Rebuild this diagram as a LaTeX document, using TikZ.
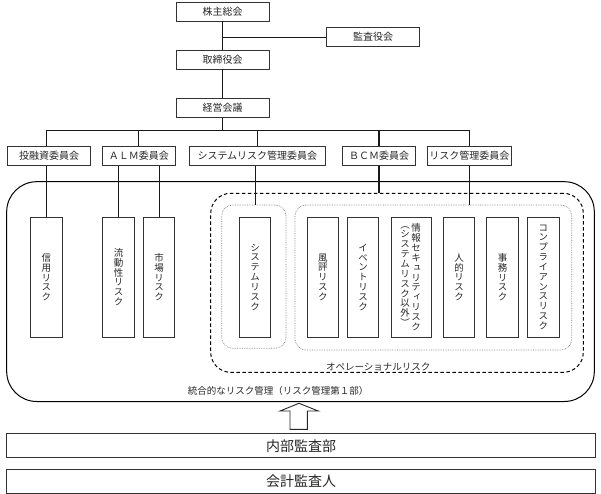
\documentclass[tikz,border=0pt]{standalone}
\usepackage{fontspec}
\setmainfont{Noto Sans CJK JP}
\newfontfamily\tatefont[RawFeature=+vert]{Noto Sans CJK JP}
\usepackage{tikz}

\begin{document}
\begin{tikzpicture}[x=1pt,y=-1pt,
		orgbox/.style={draw=black!80, line width=0.9pt, inner sep=0pt, text=black!85, minimum width=93pt, minimum height=19pt, font=\fontsize{10}{12}\selectfont},
		tate/.style={align=center, inner sep=0pt, text=black!85, font=\tatefont\fontsize{9.5}{9.85}\selectfont},
		riskbox/.style={tate, draw=black!80, line width=0.9pt, minimum width=31.5pt, minimum height=120pt},
		group/.style={draw=black!50, densely dotted, line width=0.7pt, inner sep=0pt, rounded corners=11pt},
		auditbox/.style={orgbox, minimum width=589pt, minimum height=24pt, font=\fontsize{14}{16}\selectfont},
		link/.style={line width=1.1pt, black!90}]
		%\draw[thin, gray!25] (0,0) grid[step=50] (601,494);
		\useasboundingbox (0,0) rectangle (601,494);
		% containers
		\node[draw, line width=1pt, inner sep=0pt, rounded corners=30pt, minimum width=587.6pt, minimum height=219.8pt] (togo) at (300.5,291.6) {};
		\node[draw, dash pattern=on 3.5pt off 2.5pt, line width=1pt, inner sep=0pt, rounded corners=20pt, minimum width=372.6pt, minimum height=179pt] (ops) at (397,282.8) {};
		\node[group, minimum width=64.3pt, minimum height=143.3pt] (sysgrp) at (253.85,276.65) {};
		\node[group, minimum width=276.7pt, minimum height=145pt] (opsin) at (433.35,277.5) {};
		\node[text=black!85, font=\fontsize{9.5}{11}\selectfont] (opslabel) at (378.3,366.7) {オペレーショナルリスク};
		\node[text=black!85, font=\fontsize{9.5}{11}\selectfont] (togolabel) at (278,391) {統合的なリスク管理（リスク管理第１部）};
		% top
		\node[orgbox] (kabu) at (222.5,11.5) {株主総会};
		\node[orgbox] (kansa) at (373,37.2) {監査役会};
		\node[orgbox] (torishimari) at (222.5,59.5) {取締役会};
		\node[orgbox] (keiei) at (222.5,108) {経営会議};
		% committees
		\node[orgbox, minimum width=83.4pt] (toyushi) at (49,155.7) {投融資委員会};
		\node[orgbox, minimum width=72.3pt] (alm) at (138.85,155.7) {ＡＬＭ委員会};
		\node[orgbox, minimum width=136.7pt] (syscom) at (257.35,155.7) {システムリスク管理委員会};
		\node[orgbox, minimum width=72.6pt] (bcm) at (379,155.7) {ＢＣＭ委員会};
		\node[orgbox, minimum width=84.7pt] (riskcom) at (469.35,155.7) {リスク管理委員会};
		% risks
		\node[riskbox] (shinyo) at (46.35,277.2) {信\\用\\リ\\ス\\ク};
		\node[riskbox] (ryudo) at (118.5,277.2) {流\\動\\性\\リ\\ス\\ク};
		\node[riskbox] (shijo) at (159.15,277.2) {市\\場\\リ\\ス\\ク};
		\node[riskbox] (sysrisk) at (255.15,277.2) {シ\\ス\\テ\\ム\\リ\\ス\\ク};
		\node[riskbox] (fuhyo) at (322.8,277.2) {風\\評\\リ\\ス\\ク};
		\node[riskbox] (event) at (363.15,277.2) {イ\\ベ\\ン\\ト\\リ\\ス\\ク};
		\node[riskbox, minimum width=40.5pt] (joho) at (411.3,277.2) {};
		\node[tate] (johoR) at (416,277.2) {情\\報\\セ\\キ\\ュ\\リ\\テ\\ィ\\リ\\ス\\ク};
		\node[tate] (johoL) at (405,276.5) {︵\\シ\\ス\\テ\\ム\\リ\\ス\\ク\\以\\外\\︶};
		\node[riskbox] (jinteki) at (459.15,277.2) {人\\的\\リ\\ス\\ク};
		\node[riskbox] (jimu) at (502.5,277.2) {事\\務\\リ\\ス\\ク};
		\node[riskbox] (comp) at (543.35,277.2) {コ\\ン\\プ\\ラ\\イ\\ア\\ン\\ス\\リ\\ス\\ク};
		% audit
		\node[auditbox] (naibu) at (301.2,445.85) {内部監査部};
		\node[auditbox] (kaikei) at (301.2,481.15) {会計監査人};
		\draw[line width=0.9pt, draw=black!85] (290,429.3) -- (290,411) -- (280,411) -- (299,403.3) -- (318.3,411) -- (307.3,411) -- (307.3,429.3) -- cycle;
		% links
		\coordinate (bus) at (222.5,130.7);
		\draw[link] (kabu) -- (torishimari);
		\draw[link] (kansa) -- (kansa -| kabu);
		\draw[link] (torishimari) -- (keiei);
		\draw[link] (keiei) -- (bus);
		\draw[link] (toyushi.north -| shinyo) |- (bus) -| (riskcom);
		\draw[link] (alm) -- (alm |- bus);
		\draw[link] (syscom) -- (syscom |- bus);
		\draw[link] (bcm) -- (bcm |- bus);
		\draw[link] (shinyo) -- (shinyo |- toyushi.south);
		\draw[link] (ryudo) -- (ryudo |- alm.south);
		\draw[link] (shijo) -- (shijo |- alm.south);
		\draw[link] (sysrisk |- syscom.south) -- (sysrisk |- sysgrp.north);
		\draw[link] (bcm) -- (bcm |- ops.north);
		\draw[link] (riskcom) -- (riskcom |- opsin.north);
	\end{tikzpicture}
\end{document}
